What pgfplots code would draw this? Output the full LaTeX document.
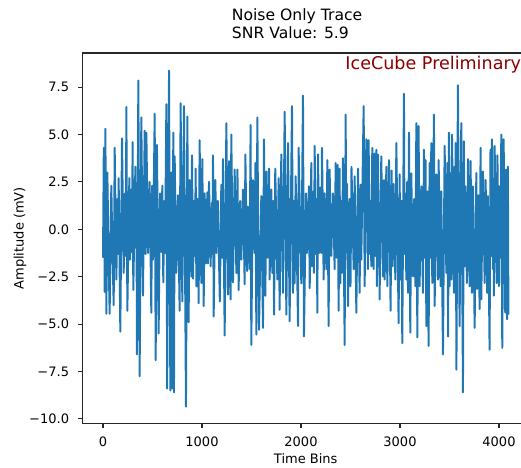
\documentclass[border=0pt]{standalone}
\usepackage{pgfplots}
\pgfplotsset{compat=1.18}
\usepackage{fontspec}
\setmainfont{DejaVu Sans}
\definecolor{mplblue}{HTML}{1F77B4}
\definecolor{icered}{HTML}{8B0000}
\begin{document}
\begin{tikzpicture}
\begin{axis}[
  scale only axis, width=343.03pt, height=285.1pt,
  xmin=-204.75, xmax=4299.75, ymin=-10.25, ymax=9.3,
  clip=false,
  axis line style={line width=0.8pt, black!85},
  tick align=outside, tick pos=left,
  major tick length=3.5pt,
  every tick/.style={black!85, line width=0.8pt},
  xtick={0,1000,2000,3000,4000}, xticklabels={0,1000,2000,3000,4000},
  ytick={-10,-7.5,-5,-2.5,0,2.5,5,7.5},
  yticklabels={−10.0,−7.5,−5.0,−2.5,0.0,2.5,5.0,7.5},
  xticklabel style={yshift=-3.5pt, font=\fontsize{10}{12}\selectfont},
  yticklabel style={xshift=-3.5pt, font=\fontsize{10}{12}\selectfont},
  xlabel={Time Bins}, ylabel={Amplitude (mV)},
  xlabel style={at={(axis description cs:0.5,-0.1063)}, anchor=base, font=\fontsize{10}{12}\selectfont},
  ylabel style={at={(axis description cs:-0.1407,0.5)}, anchor=center, font=\fontsize{10}{12}\selectfont},
]
\addplot[mplblue, line width=1.5pt, line join=round, mark=none] coordinates {
(0,-1.5)(8,4.3)(17,-3.3)(24,5.3)(34,-4.45)(44,3.0)(57,-1.5)(67,-4.45)(84,2.3)(96,-1.3)
(108,-4.0)(118,4.3)(135,-2.65)(146,1.6)(152,-1.3)(158,2.7)(175,-5.4)(192,4.8)(209,-2.3)(222,1.9)
(230,-1.4)(236,6.45)(246,-4.3)(266,2.7)(273,-1.6)(286,2.1)(293,-1.2)(299,4.6)(306,-3.2)(327,3.3)
(335,-1.0)(338,1.5)(343,-6.6)(357,7.85)(370,-7.75)(387,5.9)(404,-3.5)(421,5.2)(431,-1.3)(438,5.1)
(455,-1.25)(471,2.5)(488,-4.4)(496,2.3)(505,-1.6)(522,6.1)(532,-6.9)(545,4.45)(562,-5.5)(576,1.9)
(589,-1.2)(599,2.3)(609,-2.8)(620,1.5)(627,-1.25)(640,6.6)(648,-8.4)(667,8.37)(680,-8.5)(690,3.0)
(700,-8.4)(710,5.1)(717,-8.6)(724,3.85)(740,-2.3)(757,1.8)(774,-4.3)(784,6.65)(801,-3.8)(818,6.5)
(838,-9.35)(852,5.95)(865,-4.9)(875,2.6)(892,-2.5)(899,3.9)(909,-2.6)(922,1.5)(929,-1.4)(936,3.2)
(943,-3.0)(955,1.6)(966,-3.9)(976,4.7)(993,-2.83)(1003,3.7)(1017,-4.05)(1027,1.9)(1040,-1.8)(1054,1.95)
(1060,-1.8)(1071,2.5)(1087,-1.95)(1099,1.4)(1105,-1.3)(1111,3.9)(1118,-4.6)(1135,2.6)(1145,-1.25)(1160,1.5)
(1180,-3.8)(1195,2.35)(1204,-1.5)(1212,3.7)(1229,-5.6)(1246,5.6)(1263,-3.45)(1273,3.6)(1289,-3.7)(1296,5.0)
(1313,-2.8)(1330,3.15)(1347,-2.3)(1358,3.15)(1370,-3.2)(1385,1.5)(1397,-1.6)(1414,2.1)(1431,-2.9)(1438,3.95)
(1455,-2.2)(1465,1.2)(1481,-2.1)(1491,5.5)(1498,-6.1)(1515,2.6)(1532,-1.25)(1539,3.5)(1549,-5.55)(1559,5.9)
(1576,-5.3)(1599,1.75)(1616,-5.2)(1626,4.75)(1640,-3.5)(1650,3.05)(1660,-1.5)(1677,3.2)(1683,-2.65)(1700,2.1)
(1710,-2.3)(1720,1.5)(1728,-4.5)(1740,3.2)(1761,-2.65)(1774,2.7)(1784,-4.25)(1801,3.95)(1818,-3.35)(1835,6.2)
(1852,-4.5)(1869,4.55)(1885,-4.85)(1909,6.5)(1919,-3.35)(1928,1.5)(1936,-2.85)(1946,2.8)(1970,-5.1)(1976,4.3)
(2003,-2.85)(2020,7.05)(2030,-5.65)(2050,1.9)(2060,-1.25)(2080,2.27)(2088,-3.1)(2104,3.5)(2111,-1.95)(2125,2.0)
(2131,-2.3)(2138,4.4)(2150,-1.3)(2158,1.6)(2165,-4.4)(2172,3.95)(2184,-1.25)(2194,2.2)(2205,-1.25)(2212,4.3)
(2229,-2.65)(2239,1.9)(2256,-2.1)(2266,3.65)(2279,-5.1)(2289,3.15)(2306,-1.4)(2323,1.9)(2340,-2.1)(2350,3.5)
(2360,-1.5)(2370,3.4)(2380,-4.3)(2390,3.2)(2397,-2.85)(2408,1.5)(2415,-2.3)(2424,3.75)(2441,-6.1)(2451,6.05)
(2458,-1.2)(2465,2.4)(2475,-4.05)(2490,1.6)(2500,-3.0)(2510,3.3)(2532,-2.1)(2542,2.8)(2559,-4.4)(2576,3.2)
(2592,-3.35)(2603,2.35)(2609,-1.6)(2633,6.5)(2643,-3.0)(2660,4.75)(2676,-2.1)(2683,4.7)(2695,-1.3)(2702,1.5)
(2710,-1.95)(2720,4.3)(2734,-2.1)(2744,4.0)(2752,-1.4)(2761,4.2)(2767,-3.0)(2778,3.94)(2786,-1.95)(2790,1.4)
(2794,-3.7)(2811,3.85)(2828,-2.48)(2838,2.6)(2845,-2.65)(2862,3.3)(2872,-3.0)(2889,3.65)(2905,-4.3)(2915,3.1)
(2925,-1.95)(2935,2.4)(2953,-2.65)(2963,4.55)(2986,-4.95)(2996,2.9)(3006,-2.65)(3015,1.5)(3023,-6.0)(3040,7.15)
(3046,-1.3)(3052,1.9)(3064,-2.65)(3073,2.5)(3081,-3.35)(3091,5.1)(3104,-5.45)(3114,2.95)(3131,-2.48)(3143,1.6)
(3155,-3.0)(3165,5.6)(3175,-5.7)(3188,5.45)(3198,-3.0)(3215,2.27)(3232,-3.35)(3242,4.2)(3250,-1.5)(3258,3.65)
(3266,-5.1)(3275,2.0)(3289,-6.15)(3299,3.5)(3308,-1.5)(3316,4.55)(3326,-2.83)(3343,6.05)(3350,-4.05)(3367,2.9)
(3384,-2.65)(3390,3.65)(3410,-3.0)(3417,2.0)(3434,-6.6)(3451,4.4)(3468,-2.3)(3478,3.5)(3486,-5.65)(3494,5.1)
(3502,-3.0)(3510,2.95)(3518,-2.65)(3525,5.0)(3545,-3.35)(3552,3.3)(3557,-1.4)(3562,4.55)(3570,-7.4)(3585,7.6)
(3602,-5.1)(3619,5.6)(3636,-8.6)(3645,4.65)(3653,-1.95)(3660,2.27)(3676,-2.83)(3687,3.7)(3703,-3.0)(3713,3.6)
(3727,-3.35)(3737,2.27)(3754,-5.2)(3771,2.97)(3781,-3.14)(3792,1.8)(3804,-4.2)(3814,4.3)(3821,-3.7)(3838,3.05)
(3855,-2.83)(3865,2.6)(3881,-3.35)(3888,1.75)(3905,-6.35)(3914,4.2)(3921,-1.4)(3929,4.75)(3939,-2.1)(3944,1.5)
(3948,-3.5)(3956,4.4)(3976,-2.83)(3984,3.9)(4000,-3.0)(4008,2.27)(4016,-1.5)(4023,5.0)(4033,-6.25)(4047,4.75)
(4063,-4.4)(4070,3.15)(4082,-4.75)(4090,3.3)(4095,-4.5)
};
\node[anchor=base west, font=\fontsize{13.5}{16}\selectfont, text=icered, inner sep=0pt]
  at (axis description cs:0.5886,0.955) {IceCube Preliminary};
\node[anchor=base west, font=\fontsize{12}{14.4}\selectfont, inner sep=0pt]
  at (axis description cs:0.334,1.0890) {Noise Only Trace};
\node[anchor=base west, font=\fontsize{12}{14.4}\selectfont, inner sep=0pt]
  at (axis description cs:0.334,1.0378) {SNR Value: 5.9};
\end{axis}
\pgfresetboundingbox
\path[use as bounding box] ([shift={(-63.64pt,-33.38pt)}]current axis.south west)
  rectangle ([shift={(337.13pt,40.77pt)}]current axis.north west);
\end{tikzpicture}
\end{document}
